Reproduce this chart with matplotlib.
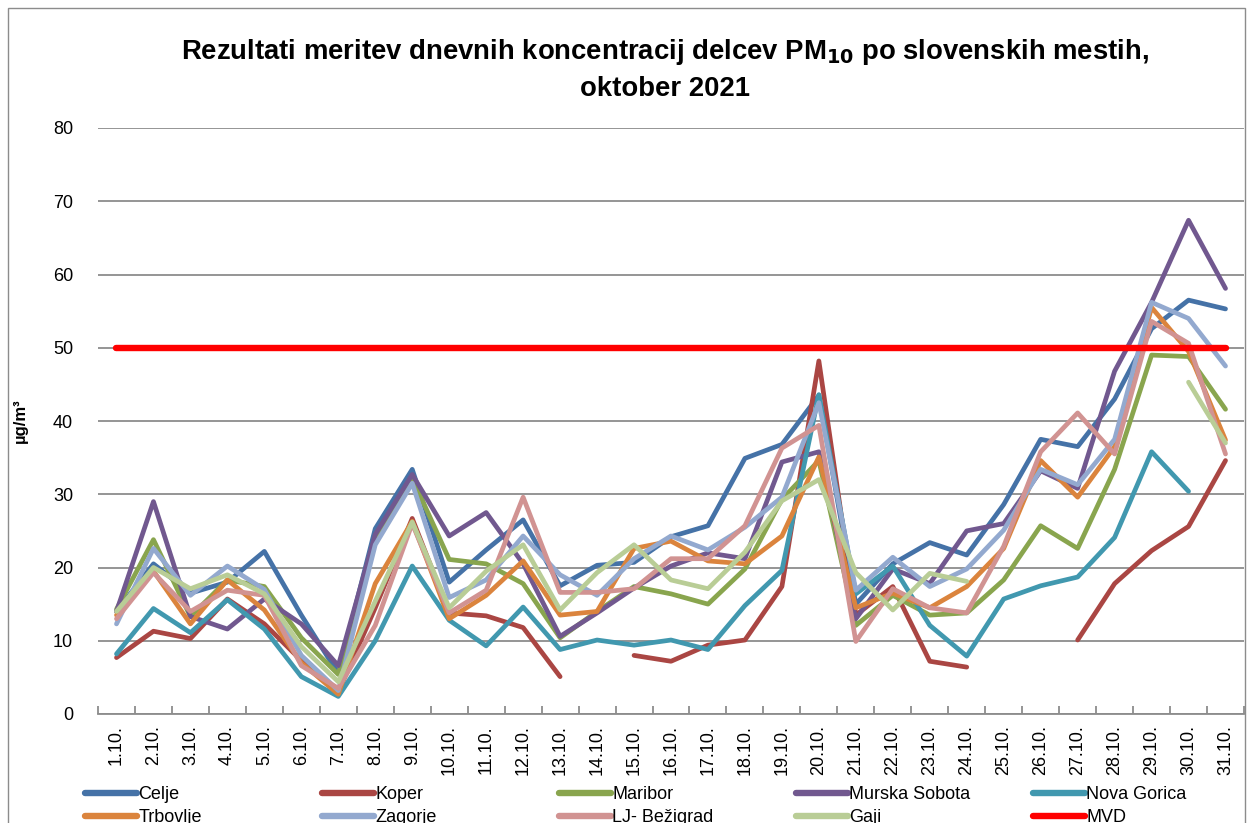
import numpy as np
import matplotlib
matplotlib.use("Agg")
import matplotlib.pyplot as plt
from matplotlib.lines import Line2D
from matplotlib.patches import Rectangle

nan = np.nan

DAYS = ["{}.10.".format(d) for d in range(1, 32)]

CELJE = [14, 20.5, 16.5, 18, 22.2, 13.5, 5.5, 25.3, 33.4, 18, 22.4, 26.5,
         17.5, 20.3, 20.7, 24.2, 25.7, 34.9, 36.8, 43.5, 15, 20.5, 23.4,
         21.7, 28.6, 37.5, 36.5, 43, 52.6, 56.5, 55.3]
KOPER = [7.7, 11.3, 10.3, 15.7, 12.3, 7.3, 3, 14.5, 26.7, 13.8, 13.4, 11.8,
         5.1, nan, 8.0, 7.2, 9.4, 10.1, 17.4, 48.2, 13.5, 17.4, 7.2, 6.4,
         nan, nan, 10.1, 17.8, 22.3, 25.6, 34.6]
MARIBOR = [14.3, 23.8, 13.3, 18.3, 17.4, 10.4, 5.4, 24, 32.2, 21.1, 20.5,
           17.8, 10.4, 14, 17.4, 16.4, 15, 19.8, 29.3, 34.6, 12.1, 16.2,
           13.5, 13.8, 18.3, 25.7, 22.6, 33.4, 49, 48.8, 41.6]
MURSKA_SOBOTA = [14, 29, 13.3, 11.6, 15.7, 12.3, 6.6, 24.5, 32.7, 24.3,
                 27.5, 20.5, 10.6, 13.8, 17.2, 20.2, 22, 21.2, 34.4, 35.8,
                 13, 19.8, 17.8, 25, 26, 33.2, 30.8, 46.8, 56.2, 67.4, 58.1]
NOVA_GORICA = [8.2, 14.4, 11.1, 15.6, 11.6, 5.1, 2.4, 10, 20.2, 12.8, 9.3,
               14.6, 8.8, 10.1, 9.4, 10.1, 8.8, 14.8, 19.6, 43.6, 16.4, 20.2,
               12.1, 7.9, 15.7, 17.5, 18.7, 24.1, 35.8, 30.4, nan]
TRBOVLJE = [13.5, 19.5, 12.3, 18.3, 14.2, 7, 2.7, 17.8, 26.3, 13, 16.2,
            20.9, 13.5, 14, 22.6, 23.6, 20.9, 20.5, 24.3, 35.1, 14.5, 16.5,
            14.5, 17.4, 22.6, 34.6, 29.6, 36.5, 55.5, 49.5, 37.4]
ZAGORJE = [12.3, 22.6, 16.2, 20.2, 17, 8, 3.2, 23.1, 31.5, 15.9, 18.3,
           24.3, 19, 16.2, 21.2, 24.3, 22.4, 25.5, 29.6, 42.5, 16.9, 21.4,
           17.4, 19.8, 25.1, 33.4, 31.3, 37.5, 56.2, 54, 47.5]
LJ_BEZIGRAD = [13, 19.3, 14, 16.9, 16.2, 6.6, 3.5, 12.1, 26, 13.8, 16.9,
               29.6, 16.6, 16.6, 17.1, 21.2, 21.2, 25.7, 36.3, 39.4, 9.9,
               17.1, 14.5, 13.8, 22.9, 35.8, 41.1, 35.5, 53.6, 50.6, 35.5]
GAJI = [14, 20, 17.1, 19, 16.4, 9.2, 4.4, 15.4, 26.2, 14.5, 19.5, 23.1,
        14.2, 19.3, 23.1, 18.3, 17.1, 22.1, 29.1, 32, 19.3, 14.2, 19.2, 18.1,
        nan, nan, nan, nan, nan, 45.3, 37]
MVD = [50] * 31

SERIES = [
    ("Celje", CELJE, "#4572A7"),
    ("Koper", KOPER, "#AA4643"),
    ("Maribor", MARIBOR, "#89A54E"),
    ("Murska Sobota", MURSKA_SOBOTA, "#71588F"),
    ("Nova Gorica", NOVA_GORICA, "#4198AF"),
    ("Trbovlje", TRBOVLJE, "#DB843D"),
    ("Zagorje", ZAGORJE, "#93A9CF"),
    ("LJ- Bežigrad", LJ_BEZIGRAD, "#D19392"),
    ("Gaji", GAJI, "#B9CD96"),
    ("MVD", MVD, "#FF0000"),
]

plt.rcParams["font.family"] = ["Liberation Sans", "DejaVu Sans"]

fig = plt.figure(figsize=(12.52, 8.23), dpi=100)
ax = fig.add_axes([98 / 1252, 1 - 714 / 823, 1146 / 1252, 586 / 823])

xs = np.arange(len(DAYS))
handles = []
for name, vals, color in SERIES:
    lw = 4.6 if name == "MVD" else 3.4
    ax.plot(xs, vals, color=color, lw=lw, label=name,
            solid_capstyle="round", solid_joinstyle="round")
    # thicker proxy for the legend key
    handles.append(Line2D([], [], color=color, lw=4.6, label=name,
                          solid_capstyle="round"))

ax.set_xlim(-0.5, len(DAYS) - 0.5)
ax.set_ylim(0, 80)
ax.set_yticks(range(0, 81, 10))
ax.tick_params(axis="y", length=0, labelsize=13, pad=18)
ax.yaxis.grid(True, color="#8C8C8C", lw=1.3)
ax.set_axisbelow(True)

ax.set_xticks(xs)
ax.set_xticklabels(DAYS, rotation=90, fontsize=13)
ax.set_xticks(np.arange(-0.5, len(DAYS), 1), minor=True)
ax.tick_params(axis="x", which="major", length=0, pad=8)
ax.tick_params(axis="x", which="minor", direction="in", length=6,
               color="#8C8C8C", width=1.3)

for side in ["left", "right", "top"]:
    ax.spines[side].set_visible(False)
ax.spines["bottom"].set_color("#8C8C8C")
ax.spines["bottom"].set_linewidth(1.3)

ax.set_ylabel("µg/m³", fontsize=12, fontweight="bold", labelpad=18)

fig.text(665 / 1252, 1 - 52 / 823,
         r"Rezultati meritev dnevnih koncentracij delcev PM$_{\mathbf{10}}$"
         " po slovenskih mestih,",
         ha="center", va="center", fontsize=19.8, fontweight="bold")
fig.text(665 / 1252, 1 - 89 / 823, "oktober 2021",
         ha="center", va="center", fontsize=19.8, fontweight="bold")

# legend: five columns of two entries each
for col in range(5):
    pair = [handles[col], handles[col + 5]]
    fig.legend(handles=pair, loc="upper left",
               bbox_to_anchor=((76 + col * 237) / 1252, 1 - 777 / 823),
               frameon=False, fontsize=13, handlelength=2.9,
               handletextpad=0.05, labelspacing=0.35, borderpad=0)

# chart area border
fig.add_artist(Rectangle((8 / 1252, -0.01), 1237 / 1252, 1.0,
                         transform=fig.transFigure, fill=False,
                         edgecolor="#8C8C8C", lw=1))

fig.savefig("out.png", dpi=100)
